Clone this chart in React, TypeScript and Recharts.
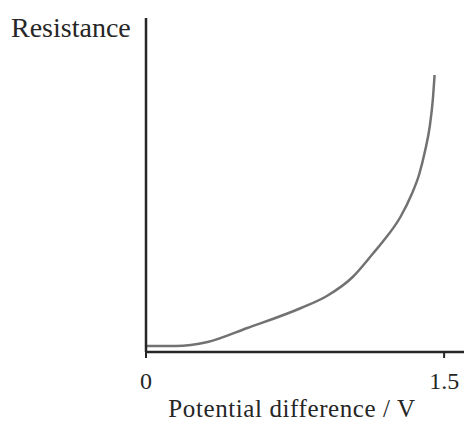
import { LineChart, Line, XAxis, YAxis, Label } from 'recharts';

// potential difference (V) and resistance (arbitrary units)
const voltage = [0, 0.15, 0.31, 0.51, 0.78, 0.91, 1.04, 1.14, 1.19, 1.28, 1.335, 1.375, 1.405, 1.428, 1.443, 1.452];
const resistance = [6, 6, 10, 24, 44, 56, 75, 98, 110, 135, 157, 178, 202, 226, 252, 277];
const xTicks = [0, 1.5];

const data = voltage.map((v, i) => ({ v, r: resistance[i] }));

const INK = '#262626';
const CURVE = '#727272';
const FONT = '"Liberation Serif", "DejaVu Serif", serif';

export default function App() {
  return (
    <div style={{ width: 466, height: 424, background: '#fff' }}>
      <style>{'body{margin:0}'}</style>
      <LineChart
        width={466}
        height={424}
        data={data}
        margin={{ top: 18, right: 2, bottom: 42, left: 145 }}
      >
        <XAxis
          dataKey="v"
          type="number"
          domain={[0, 1.6]}
          ticks={xTicks}
          height={30}
          tickFormatter={(t: number) => (t === 0 ? '0' : t.toFixed(1))}
          axisLine={{ stroke: INK, strokeWidth: 2.5 }}
          tickLine={{ stroke: INK, strokeWidth: 2 }}
          tickSize={6}
          tickMargin={14}
          tick={{ fontSize: 24, fill: INK, fontFamily: FONT }}
        >
          <Label
            content={() => (
              <text
                x={292}
                y={417}
                textAnchor="middle"
                fontSize={25}
                letterSpacing={0.6}
                fill={INK}
                fontFamily={FONT}
              >
                Potential difference / V
              </text>
            )}
          />
        </XAxis>
        <YAxis
          type="number"
          domain={[0, 334]}
          width={1}
          tick={false}
          tickLine={false}
          axisLine={{ stroke: INK, strokeWidth: 2.5 }}
        >
          <Label
            content={() => (
              <text x={11} y={37} fontSize={28} fill={INK} fontFamily={FONT}>
                Resistance
              </text>
            )}
          />
        </YAxis>
        <Line
          type="monotone"
          dataKey="r"
          stroke={CURVE}
          strokeWidth={2.5}
          dot={false}
          isAnimationActive={false}
        />
      </LineChart>
    </div>
  );
}
